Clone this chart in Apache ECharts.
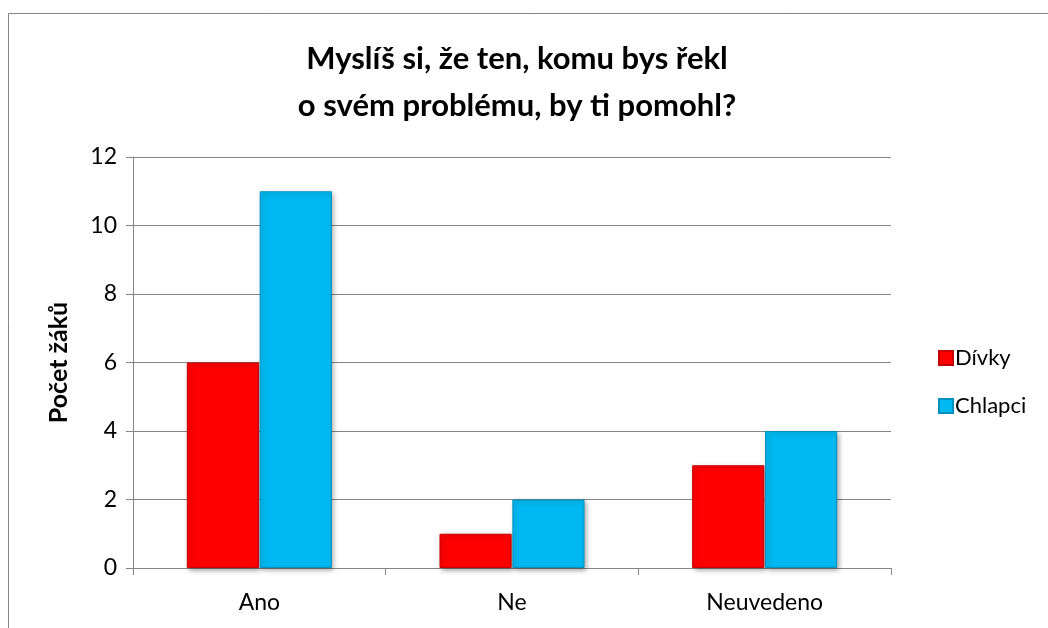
<!DOCTYPE html>
<html>
<head>
<meta charset="utf-8">
<script src="https://cdn.jsdelivr.net/npm/echarts@6/dist/echarts.min.js"></script>
<style>
  html, body { margin: 0; padding: 0; background: #fff; }
  #chart { width: 1048px; height: 628px; }
</style>
</head>
<body>
<div id="chart"></div>
<script>
const categories = ['Ano', 'Ne', 'Neuvedeno']
const divky = [6, 1, 3]
const chlapci = [11, 2, 4]
const titleText = 'Myslíš si, že ten, komu bys řekl\no svém problému, by ti pomohl?'
const yName = 'Počet žáků'

const font = 'Lato, "Open Sans", sans-serif'
const chart = echarts.init(document.getElementById('chart'))

function barStyle(color, border) {
  return {
    color: color,
    borderColor: border,
    borderWidth: 1,
    shadowColor: 'rgba(0,0,0,0.35)',
    shadowBlur: 5,
    shadowOffsetX: 2,
    shadowOffsetY: 2
  }
}

chart.setOption({
  animation: false,
  textStyle: { fontFamily: font },
  graphic: [{
    type: 'rect',
    shape: { x: 8.5, y: 13.5, width: 1200, height: 800 },
    style: { fill: 'none', stroke: '#868686', lineWidth: 1 },
    silent: true,
    z: -1
  }],
  title: {
    text: titleText,
    left: 512,
    textAlign: 'center',
    top: 30,
    textStyle: { fontFamily: font, fontSize: 31, fontWeight: 'bold', color: '#000', lineHeight: 47 }
  },
  legend: {
    orient: 'vertical',
    left: 933,
    top: 342,
    itemWidth: 14,
    itemHeight: 14,
    itemGap: 26,
    icon: 'rect',
    textStyle: { fontFamily: font, fontSize: 22, color: '#000', padding: [0, 0, 0, -3] },
    data: ['Dívky', 'Chlapci']
  },
  grid: { left: 133, right: 157, top: 157, bottom: 60 },
  xAxis: {
    type: 'category',
    data: categories,
    axisLine: { lineStyle: { color: '#868686' } },
    axisTick: { show: true, length: 7, lineStyle: { color: '#868686' } },
    axisLabel: { color: '#000', fontSize: 23, margin: 23, fontFamily: font }
  },
  yAxis: {
    type: 'value',
    min: 0,
    max: 12,
    interval: 2,
    name: yName,
    nameLocation: 'middle',
    nameGap: 62,
    nameTextStyle: { fontFamily: font, fontSize: 25, fontWeight: 'bold', color: '#000' },
    axisLine: { show: true, lineStyle: { color: '#868686' } },
    axisTick: { show: true, length: 7, lineStyle: { color: '#868686' } },
    axisLabel: { color: '#000', fontSize: 23, margin: 16, fontFamily: font },
    splitLine: { lineStyle: { color: '#868686', width: 1 } }
  },
  series: [
    {
      name: 'Dívky',
      type: 'bar',
      data: divky,
      barGap: '1%',
      barCategoryGap: '42.6%',
      itemStyle: barStyle('#FF0000', '#C80000')
    },
    {
      name: 'Chlapci',
      type: 'bar',
      data: chlapci,
      itemStyle: barStyle('#00B9F2', '#0090C0')
    }
  ]
})
</script>
</body>
</html>
